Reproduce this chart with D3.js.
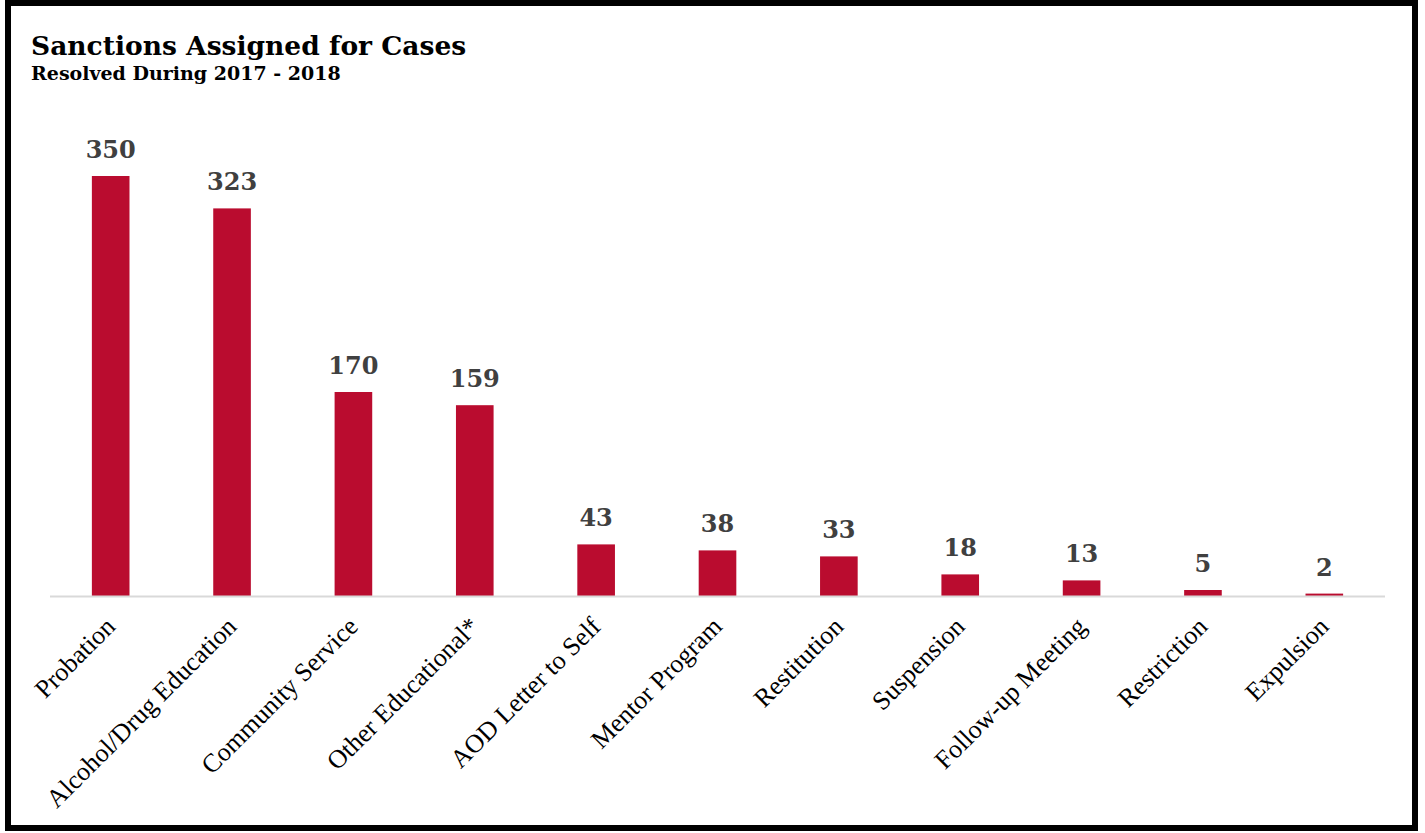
<!DOCTYPE html>
<html>
<head>
    <script src="https://cdnjs.cloudflare.com/ajax/libs/d3/7.8.5/d3.min.js"></script>
    <style>
        body, html {
            margin: 0;
            padding: 0;
            width: 100%;
            height: 100%;
            overflow: hidden;
            background: #fff;
        }
        svg {
            display: block;
        }
        .title {
            font-family: "DejaVu Serif", serif;
            font-weight: bold;
            fill: #000;
        }
        .value-label {
            font-family: "DejaVu Serif", serif;
            font-weight: bold;
            font-size: 24px;
            fill: #404040;
        }
        .cat-label {
            font-family: "Liberation Serif", serif;
            font-size: 26px;
            fill: #000;
        }
    </style>
</head>
<body>
    <svg></svg>
    <script>
        const categories = ["Probation", "Alcohol/Drug Education", "Community Service", "Other Educational*",
            "AOD Letter to Self", "Mentor Program", "Restitution", "Suspension", "Follow-up Meeting",
            "Restriction", "Expulsion"];
        const counts = [350, 323, 170, 159, 43, 38, 33, 18, 13, 5, 2];

        const width = 1425;
        const height = 833;

        const svg = d3.select("svg")
            .attr("width", width)
            .attr("height", height);

        // outer frame
        svg.append("rect")
            .attr("x", 8)
            .attr("y", 3)
            .attr("width", 1407)
            .attr("height", 825)
            .attr("fill", "none")
            .attr("stroke", "#000")
            .attr("stroke-width", 6);

        svg.append("text")
            .attr("class", "title")
            .attr("x", 31)
            .attr("y", 55)
            .style("font-size", "26.5px")
            .text("Sanctions Assigned for Cases");

        svg.append("text")
            .attr("class", "title")
            .attr("x", 31)
            .attr("y", 80)
            .style("font-size", "19px")
            .text("Resolved During 2017 - 2018");

        const x = d3.scaleBand()
            .domain(categories)
            .range([50, 1385])
            .paddingInner(0.69)
            .paddingOuter(0.345);

        const y = d3.scaleLinear()
            .domain([0, 400])
            .range([596, 116]);

        svg.append("g")
            .selectAll("rect")
            .data(categories)
            .join("rect")
            .attr("x", d => x(d))
            .attr("y", (d, i) => y(counts[i]))
            .attr("width", x.bandwidth())
            .attr("height", (d, i) => y(0) - y(counts[i]))
            .attr("fill", "#ba0c2f");

        svg.append("line")
            .attr("x1", 50)
            .attr("x2", 1385)
            .attr("y1", y(0) + 0.5)
            .attr("y2", y(0) + 0.5)
            .attr("stroke", "#d9d9d9")
            .attr("stroke-width", 2);

        svg.append("g")
            .selectAll("text")
            .data(categories)
            .join("text")
            .attr("class", "value-label")
            .attr("text-anchor", "middle")
            .attr("x", d => x(d) + x.bandwidth() / 2)
            .attr("y", (d, i) => y(counts[i]) - 18)
            .text((d, i) => counts[i]);

        svg.append("g")
            .selectAll("text")
            .data(categories)
            .join("text")
            .attr("class", "cat-label")
            .attr("text-anchor", "end")
            .attr("transform", d => {
                const cx = x(d) + x.bandwidth() / 2 + 6;
                return `translate(${cx},${628}) rotate(-45)`;
            })
            .text(d => d);
    </script>
</body>
</html>
